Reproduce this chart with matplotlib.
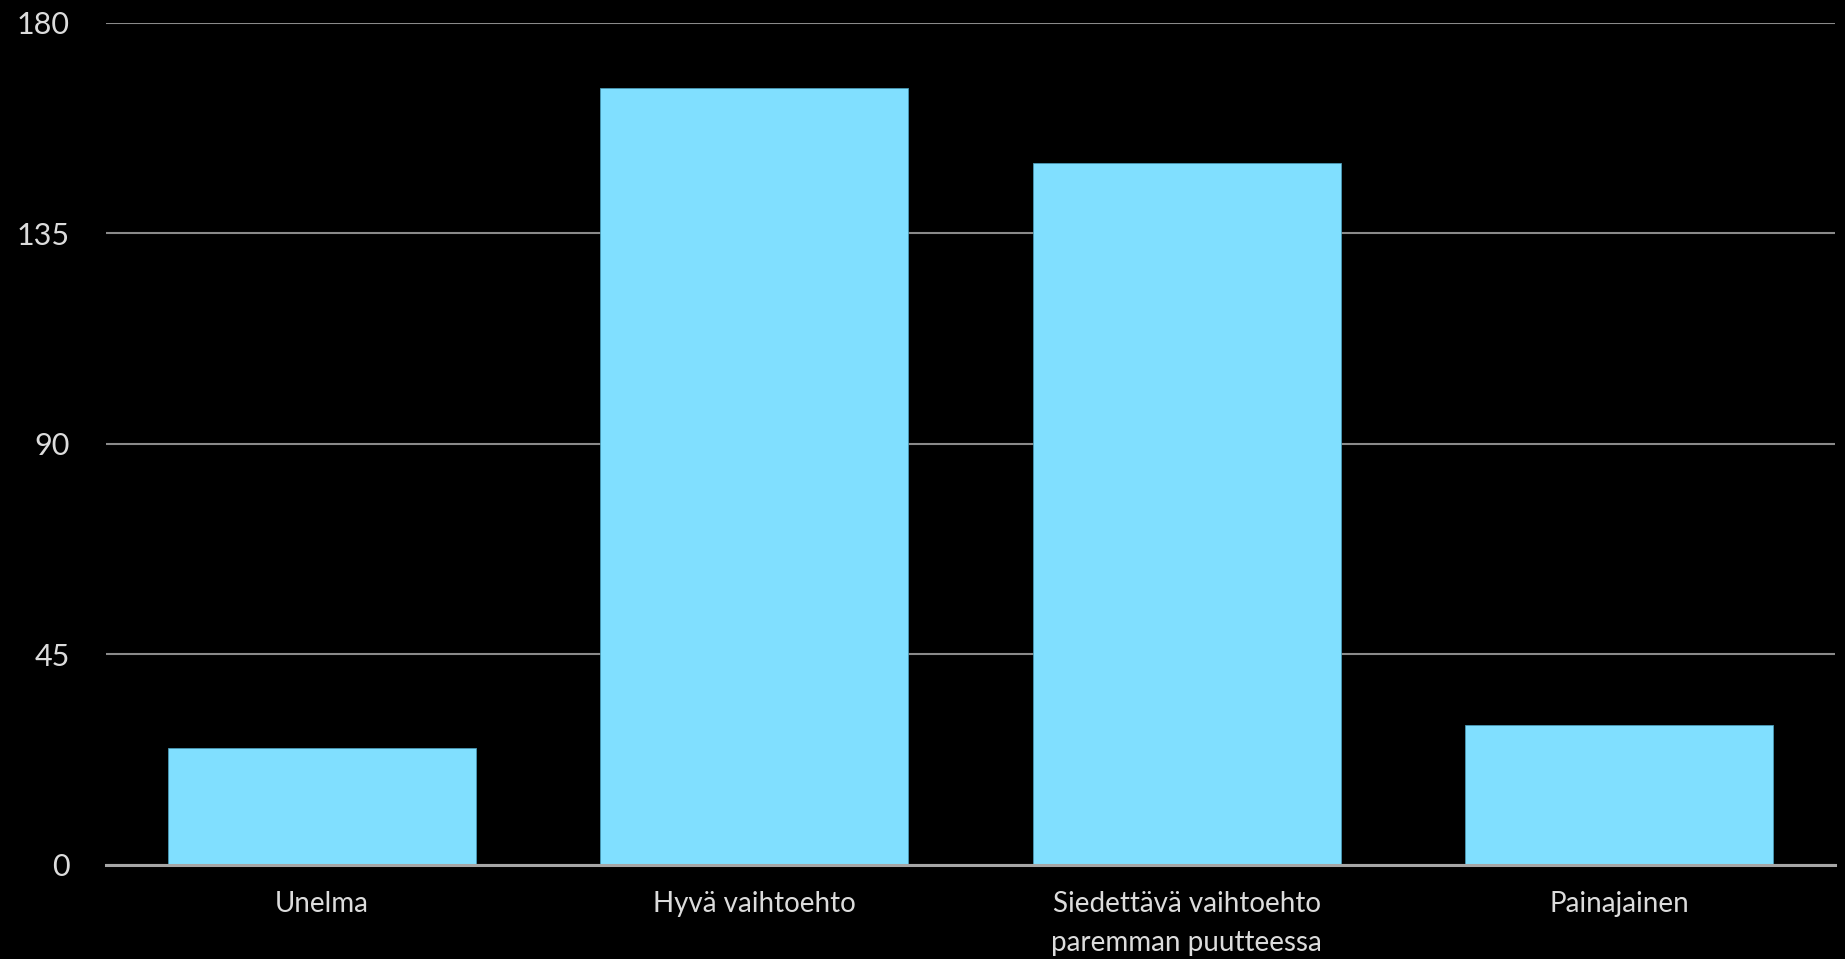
import matplotlib.pyplot as plt

categories = ["Unelma", "Hyvä vaihtoehto", "Siedettävä vaihtoehto\nparemman puutteessa", "Painajainen"]
values = [25, 166, 150, 30]
yticks = [0, 45, 90, 135, 180]

plt.rcParams['font.family'] = ['Lato', 'DejaVu Sans']

fig = plt.figure(figsize=(18.45, 9.59), dpi=100, facecolor="black")
ax = fig.add_axes([106 / 1845, 1 - 865 / 959, (1835 - 106) / 1845, (865 - 22.5) / 959])
ax.set_facecolor("black")

x = list(range(len(categories)))
ax.bar(x, values, width=0.713, color="#80dfff", edgecolor="#4a9ab5", linewidth=0.6, zorder=3)

ax.set_xlim(-0.5, len(categories) - 0.5)
ax.set_ylim(0, 180)
ax.set_yticks(yticks)
ax.set_yticklabels([str(t) for t in yticks])
ax.set_xticks(x)
ax.set_xticklabels(categories, linespacing=1.6)

ax.yaxis.grid(True, color="#8a8a8a", linewidth=1.5, zorder=1)
for s in ["left", "right", "top"]:
    ax.spines[s].set_visible(False)
ax.spines["bottom"].set_color("#a6a6a6")
ax.spines["bottom"].set_linewidth(2.2)
ax.spines["bottom"].set_zorder(4)

ax.tick_params(axis="y", length=0, pad=26, labelsize=22, labelcolor="#dcdcdc")
ax.tick_params(axis="x", length=0, pad=19, labelsize=20, labelcolor="#dcdcdc")

fig.savefig("out.png", dpi=100, facecolor="black")
